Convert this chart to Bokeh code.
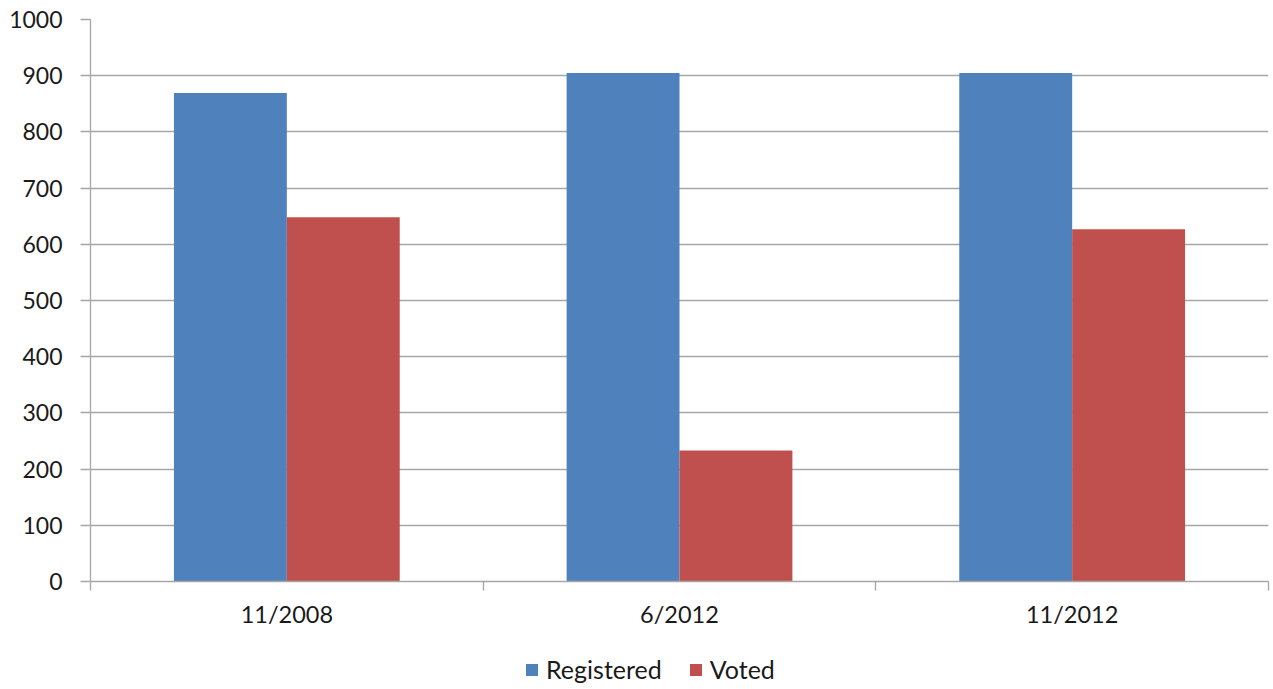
from bokeh.plotting import figure
from bokeh.layouts import column
from bokeh.models import ColumnDataSource, FixedTicker, Legend, LegendItem, Range1d
from bokeh.embed import file_html
from bokeh.resources import INLINE

categories = ["11/2008", "6/2012", "11/2012"]
registered = [869, 905, 905]
voted = [648, 233, 627]
y_ticks = [0, 100, 200, 300, 400, 500, 600, 700, 800, 900, 1000]
series_names = ["Registered", "Voted"]

BLUE = "#4F81BD"
RED = "#C0504D"
GRID = "#A6A6A6"
FONT = "Lato"
TXT = "#1a1a1a"

n = len(categories)
bw = 0.2875
centers = [i + 0.5 for i in range(n)]
src = ColumnDataSource(dict(
    xr=[c - bw / 2 for c in centers],
    xv=[c + bw / 2 for c in centers],
    reg=registered, vot=voted,
))

p = figure(frame_width=1178, frame_height=562, output_backend="svg", toolbar_location=None,
           x_range=Range1d(0, n), y_range=Range1d(0, 1000),
           min_border_left=90, min_border_top=19, min_border_right=4, min_border_bottom=68)
p.outline_line_color = None
p.background_fill_color = "white"
p.border_fill_color = "white"

r1 = p.vbar(x="xr", top="reg", width=bw, source=src, fill_color=BLUE, line_color=None)
r2 = p.vbar(x="xv", top="vot", width=bw, source=src, fill_color=RED, line_color=None)

# grid
p.xgrid.grid_line_color = None
p.ygrid.grid_line_color = GRID
p.ygrid.grid_line_width = 1.3
p.ygrid.ticker = FixedTicker(ticks=y_ticks)

# y axis
ya = p.yaxis[0]
ya.ticker = FixedTicker(ticks=y_ticks)
ya.axis_line_color = GRID
ya.axis_line_width = 1.3
ya.major_tick_line_color = GRID
ya.major_tick_line_width = 1.3
ya.major_tick_out = 10
ya.major_tick_in = 0
ya.minor_tick_line_color = None
ya.major_label_standoff = 18
ya.major_label_text_font = FONT
ya.major_label_text_font_size = "23px"
ya.major_label_text_color = TXT

# x axis
xa = p.xaxis[0]
xa.ticker = FixedTicker(ticks=centers, minor_ticks=list(range(n + 1)))
xa.major_label_overrides = {c: lab for c, lab in zip(centers, categories)}
xa.axis_line_color = GRID
xa.axis_line_width = 1.3
xa.major_tick_line_color = None
xa.minor_tick_line_color = GRID
xa.minor_tick_line_width = 1.3
xa.minor_tick_out = 9
xa.minor_tick_in = 0
xa.major_label_standoff = 9
xa.major_label_text_font = FONT
xa.major_label_text_font_size = "23.5px"
xa.major_label_text_color = TXT

# legend strip below the chart (zero-height proxy bars, so nothing is drawn in the strip)
lf = figure(width=1272, height=40, output_backend="svg", toolbar_location=None,
            x_axis_type=None, y_axis_type=None, x_range=Range1d(0, 1), y_range=Range1d(0, 1),
            min_border_left=0, min_border_right=0, min_border_top=0, min_border_bottom=0)
lf.outline_line_color = None
lf.xgrid.grid_line_color = None
lf.ygrid.grid_line_color = None
lf.border_fill_color = "white"
lf.background_fill_color = "white"
proxy = ColumnDataSource(dict(x=[0.5], top=[0]))
lr1 = lf.vbar(x="x", top="top", width=0.01, source=proxy, fill_color=BLUE, line_color=None)
lr2 = lf.vbar(x="x", top="top", width=0.01, source=proxy, fill_color=RED, line_color=None)

legend = Legend(items=[LegendItem(label=series_names[0], renderers=[lr1]),
                       LegendItem(label=series_names[1], renderers=[lr2])],
                orientation="horizontal", location=(434, 5),
                label_text_font=FONT, label_text_font_size="25px", label_text_color=TXT,
                glyph_width=15, glyph_height=15, spacing=26, label_standoff=7,
                border_line_color=None, background_fill_alpha=0, padding=4, margin=0)
lf.add_layout(legend, "center")

layout = column(p, lf, spacing=0)
open("out.html", "w").write(file_html(layout, INLINE))
